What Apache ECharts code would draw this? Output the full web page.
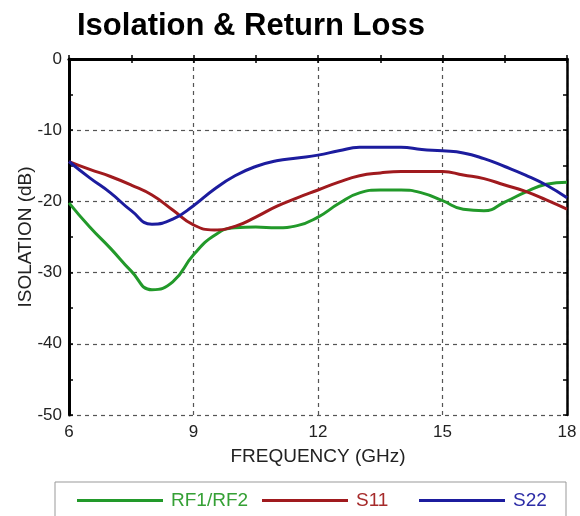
<!DOCTYPE html>
<html>
<head>
<meta charset="utf-8">
<title>Isolation & Return Loss</title>
<script src="https://cdn.jsdelivr.net/npm/echarts@6/dist/echarts.min.js"></script>
<style>
  html, body { margin: 0; padding: 0; background: #fff; }
  #chart { width: 580px; height: 516px; }
</style>
</head>
<body>
<div id="chart"></div>
<script>
// frequency points (GHz)
const freq = [6, 6.5, 7, 7.5, 8, 8.5, 9, 9.5, 10, 10.5, 11, 11.5, 12,
  12.5, 13, 13.5, 14, 14.5, 15, 15.5, 16, 16.5, 17, 17.5, 18];
// RF1/RF2 isolation (dB)
const rf1rf2 = [-20.2, -23.6, -26.6, -29.8, -32.4, -31.3, -27.5, -24.8, -23.7,
  -23.6, -23.7, -23.4, -22.2, -20.3, -18.8, -18.4, -18.4, -18.8, -19.9,
  -21.1, -21.3, -20.1, -18.7, -17.6, -17.3];
// S11 return loss (dB)
const s11 = [-14.4, -15.5, -16.5, -17.7, -19.1, -21.2, -23.3, -24.0, -23.5,
  -22.2, -20.7, -19.5, -18.4, -17.3, -16.4, -16.0, -15.8, -15.8, -15.8,
  -16.3, -16.8, -17.7, -18.6, -19.8, -21.1];
// S22 return loss (dB)
const s22 = [-14.4, -16.7, -18.8, -21.3, -23.2, -22.5, -20.6, -18.3, -16.4,
  -15.1, -14.3, -13.9, -13.5, -12.9, -12.4, -12.4, -12.4, -12.7, -12.9,
  -13.2, -14.0, -15.1, -16.3, -17.7, -19.5];

const names = ['RF1/RF2', 'S11', 'S22'];
const colors = ['#22992a', '#a01a1e', '#1c1c9e'];
const textColors = ['#35a035', '#a62a2a', '#2c2ca6'];
const legendLeft = [72, 257, 414];

const font = '"Liberation Sans", Arial, sans-serif';

function pairs(ys) {
  return freq.map(function (f, i) { return [f, ys[i]]; });
}

const chart = echarts.init(document.getElementById('chart'), null, { renderer: 'canvas' });

const tickLabel = { color: '#222', fontSize: 17, fontFamily: font };
const dashGrid = { show: true, lineStyle: { color: '#555', type: [4, 4], width: 1.2 } };
const tick = { show: true, inside: true, length: 4, lineStyle: { color: '#000', width: 1.5 } };
const minor = { show: true, splitNumber: 2, length: 4, lineStyle: { color: '#000', width: 1.5 } };

const option = {
  animation: false,
  backgroundColor: '#fff',
  title: {
    text: 'Isolation & Return Loss',
    left: 72,
    top: 6,
    textStyle: { fontSize: 31, fontWeight: 'bold', color: '#000', fontFamily: font }
  },
  legend: names.map(function (n, i) {
    return {
      left: legendLeft[i],
      top: 486,
      icon: 'rect',
      itemWidth: 86,
      itemHeight: 3,
      itemGap: 0,
      data: [{ name: n, textStyle: { color: textColors[i] } }],
      textStyle: { fontSize: 19, fontFamily: font, padding: [0, 0, 0, 3] },
      selectedMode: false
    };
  }),
  graphic: [{
    type: 'rect',
    shape: { x: 55, y: 482, width: 511, height: 50 },
    style: { fill: 'none', stroke: '#999', lineWidth: 1 },
    silent: true
  }],
  grid: { left: 69, right: 13, top: 59, bottom: 101 },
  xAxis: [{
    type: 'value',
    position: 'bottom',
    min: 6, max: 18, interval: 3,
    name: 'FREQUENCY (GHz)',
    nameLocation: 'middle',
    nameGap: 32,
    nameMoveOverlap: false,
    nameTextStyle: { fontSize: 19, color: '#222', fontFamily: font },
    axisLine: { show: true, lineStyle: { color: '#000', width: 3 } },
    axisTick: tick,
    minorTick: minor,
    axisLabel: Object.assign({ margin: 9 }, tickLabel),
    splitLine: dashGrid
  }, {
    type: 'value',
    position: 'top',
    min: 6, max: 18, interval: 3,
    axisLine: { show: true, lineStyle: { color: '#000', width: 2.5 } },
    axisTick: tick,
    minorTick: minor,
    axisLabel: { show: false },
    splitLine: { show: false }
  }],
  yAxis: [{
    type: 'value',
    position: 'left',
    min: -50, max: 0, interval: 10,
    name: 'ISOLATION (dB)',
    nameLocation: 'middle',
    nameGap: 34,
    nameMoveOverlap: false,
    nameTextStyle: { fontSize: 19, color: '#222', fontFamily: font },
    axisLine: { show: true, lineStyle: { color: '#000', width: 3 } },
    axisTick: tick,
    minorTick: minor,
    axisLabel: Object.assign({ margin: 7 }, tickLabel),
    splitLine: dashGrid
  }, {
    type: 'value',
    position: 'right',
    min: -50, max: 0, interval: 10,
    axisLine: { show: true, lineStyle: { color: '#000', width: 2.5 } },
    axisTick: tick,
    minorTick: minor,
    axisLabel: { show: false },
    splitLine: { show: false }
  }],
  series: [rf1rf2, s11, s22].map(function (ys, i) {
    return {
      name: names[i],
      type: 'line',
      xAxisIndex: 0,
      yAxisIndex: 0,
      data: pairs(ys),
      smooth: 0.5,
      showSymbol: false,
      symbol: 'none',
      lineStyle: { color: colors[i], width: 3 },
      itemStyle: { color: colors[i] },
      z: 3 + i
    };
  })
};

chart.setOption(option);
</script>
</body>
</html>
